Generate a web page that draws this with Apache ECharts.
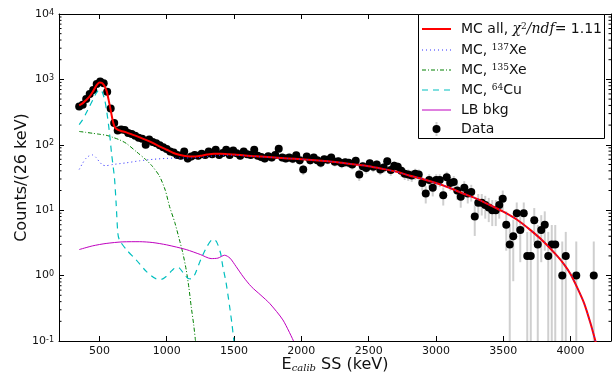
<!DOCTYPE html>
<html><head><meta charset="utf-8">
<script src="https://cdn.jsdelivr.net/npm/echarts@6/dist/echarts.min.js"></script>
<style>html,body{margin:0;padding:0;background:#fff}#c{width:613px;height:375px}</style>
</head><body><div id="c"></div>
<script>
// ---- data ----
const binEnergy = [350,376,402,428,454,480,506,532,558,584,610,636,662,688,714,740,766,792,818,844,870,896,922,948,974,1000,1026,1052,1078,1104,1130,1156,1182,1208,1234,1260,1286,1312,1338,1364,1390,1416,1442,1468,1494,1520,1546,1572,1598,1624,1650,1676,1702,1728,1754,1780,1806,1832,1858,1884,1910,1936,1962,1988,2014,2040,2066,2092,2118,2144,2170,2196,2222,2248,2274,2300,2326,2352,2378,2404,2430,2456,2482,2508,2534,2560,2586,2612,2638,2664,2690,2716,2742,2768,2794,2820,2846,2872,2898,2924,2950,2976,3002,3028,3054,3080,3106,3132,3158,3184,3210,3236,3262,3288,3314,3340,3366,3392,3418,3444,3470,3496,3522,3548,3574,3600,3626,3652,3678,3704,3730,3756,3782,3808,3834,3860,3886,3912,3938,3964,3990,4016,4042,4068,4094,4120,4146,4172];
const dataCounts = [385,410,500,600,690,850,930,870,650,360,
 215,165,172,168,152,146,138,128,124,100,
 120,110,106,98,92,86,79,76,70,68,
 79,62,66,70,68,73,70,79,72,84,
 70,75,84,70,82,74,68,79,72,70,
 84,68,65,62,67,64,70,87,64,62,
 64,61,69,58,42,66,58,64,58,53,
 60,59,64,55,56,52,54,53,50,57,
 35,47,44,52,46,50,42,45,56,41,
 48,46,40,36,35,34,36,35,26,18,
 29,22,29,29,17,32,26,27,20,16,
 22,18,19,8,13,13,12,11,10,10,
 12,15,6,3,4,9,5,9,2,2,
 7,3,5,6,2,3,3,null,1,2,
 null,null,1,null,null,null,null,1];

const mcAllE = [350,375,400,425,450,475,500,520,540,555,570,585,600,615,635,660,700,750,800,850,900,950,1000,1050,1100,1150,1200,1250,1300,1350,1400,1450,1500,1600,1700,1800,1900,2000,2100,2200,2300,2400,2500,2600,2700,2800,2900,3000,3100,3200,3300,3400,3500,3600,3700,3800,3900,3950,4000,4050,4100,4150,4190];
const mcAllV = [400,430,480,540,640,790,900,880,780,650,470,330,230,185,170,163,155,142,130,118,106,94,84,75,70,67,66,68,71,73,73,72,71,68,66,64,62,60,58,56,53,50,47,43,39,34,30,26,22,18,15,12,9.5,7.2,5,3.3,2.0,1.5,1.05,0.65,0.38,0.18,0.09];

const xe137E = [350,375,400,425,450,475,500,525,550,600,700,800,900,1000,1100,1200,1300,1400,1500,1600,1700,1800,1900,2000,2100,2200,2300,2400,2500,2600,2700,2800,2900,3000,3100,3200,3300,3400,3500,3600,3700,3800,3900,3950,4000,4050,4100,4150,4190];
const xe137V = [42,52,62,68,70,64,55,49,48,50,53,57,60,62,63,63,66,69,69.5,67.3,65.6,63.8,61.9,60,58,56,53,50,47,43,39,34,30,26,22,18,15,12,9.5,7.2,5,3.3,2.0,1.5,1.05,0.65,0.38,0.18,0.09];

const xe135E = [350,400,450,500,550,600,650,700,773,850,895,947,990,1021,1060,1095,1120,1145,1165,1182,1200,1214];
const xe135V = [160,155,150,145,140,130,119,105,79,58,46.5,33,20,11.4,6.5,3.5,2.2,1.22,0.65,0.335,0.18,0.1];

const cu64E = [350,375,400,425,450,475,500,520,540,555,575,590,612,625,637,649,700,773,850,922,960,996,1040,1070,1095,1130,1160,1182,1210,1250,1300,1343,1370,1400,1417,1440,1467,1485,1499];
const cu64V = [203,240,300,380,480,610,700,650,480,320,153,75,31,12,4.46,3.5,2.5,1.74,1.15,0.89,0.88,0.97,1.2,1.34,1.3,1.05,0.9,0.89,1.05,1.7,2.8,3.6,3.3,2.2,1.37,0.8,0.34,0.18,0.1];

const lbE = [350,450,550,674,800,897,1000,1145,1250,1330,1380,1430,1470,1516,1570,1628,1700,1764,1863,1942];
const lbV = [2.5,2.85,3.1,3.28,3.3,3.2,2.95,2.5,2.1,1.82,1.85,2.05,1.85,1.37,0.95,0.68,0.5,0.377,0.21,0.1];

const xTicks = [500,1000,1500,2000,2500,3000,3500,4000];
const yTicks = [0.1,1,10,100,1000,10000];
const yMinor = [0.2,0.3,0.4,0.5,0.6,0.7,0.8,0.9,2,3,4,5,6,7,8,9,20,30,40,50,60,70,80,90,200,300,400,500,600,700,800,900,2000,3000,4000,5000,6000,7000,8000,9000];
const X_MIN = 200, X_MAX = 4300, Y_MIN = 0.1, Y_MAX = 10000;

// ---- chart ----
const FONT = 'DejaVu Sans';
const SERIF = 'DejaVu Serif';
const TXT = '#111';
const chart = echarts.init(document.getElementById('c'), null, {renderer: 'canvas'});

function pairs(xs, ys) { return xs.map((x, i) => [x, ys[i]]); }
const dataPts = [];
binEnergy.forEach((e, i) => { if (dataCounts[i] != null) dataPts.push([e, dataCounts[i]]); });
const errBars = dataPts.map(([e, n]) => { const d = 1 + Math.sqrt(n + 0.75); return [e, Math.max(n - d, Y_MIN), n + d]; });

function expLabel(v) {
  const ex = Math.round(Math.log10(v));
  return '{b|10}{s|' + (ex < 0 ? '-' + (-ex) : ex) + '}';
}

const axisLineStyle = {color: '#000', width: 1};
function curve(name, xs, ys, color, width, type, z) {
  return {type: 'line', name, data: pairs(xs, ys), showSymbol: false, symbol: 'none', smooth: 0.25,
    lineStyle: {color, width, type}, z, silent: true, clip: true, animation: false};
}

const LX1 = 422, LX2 = 451, LTX = 461;
const rows = [29, 50, 70, 90, 110, 129];
const legendRich = {
  n: {fontFamily: FONT, fontSize: 14, color: TXT},
  i: {fontFamily: SERIF, fontStyle: 'italic', fontSize: 14, color: TXT},
  sup: {fontFamily: SERIF, fontSize: 9, color: TXT, verticalAlign: 'top'},
  supi: {fontFamily: SERIF, fontSize: 9, color: TXT, verticalAlign: 'top'}
};
function legLine(y, color, width, dash) {
  return {type: 'line', shape: {x1: LX1, y1: y, x2: LX2, y2: y}, style: {stroke: color, lineWidth: width, lineDash: dash}, z: 101};
}
function legText(y, txt) {
  return {type: 'text', x: LTX, y: y, style: {text: txt, rich: legendRich, verticalAlign: 'middle', fill: TXT, font: '14px ' + FONT}, z: 101};
}

const option = {
  animation: false,
  backgroundColor: '#fff',
  grid: {left: 59, right: 2, top: 14, bottom: 34, containLabel: false, outerBoundsMode: 'none'},
  xAxis: [{
    type: 'value', min: X_MIN, max: X_MAX, position: 'bottom',
    axisLine: {show: true, onZero: false, lineStyle: axisLineStyle},
    axisTick: {show: true, inside: true, length: 5, customValues: xTicks, lineStyle: axisLineStyle},
    axisLabel: {customValues: xTicks, formatter: v => String(v), fontFamily: FONT, fontSize: 11, color: TXT, margin: 5},
    splitLine: {show: false},
    name: '{e|E}{sub|calib}{e| SS (keV)}', nameLocation: 'middle', nameGap: 16, nameMoveOverlap: false,
    nameTextStyle: {fontFamily: FONT, fontSize: 16, color: TXT, rich: {
      e: {fontFamily: FONT, fontSize: 16, color: TXT},
      sub: {fontFamily: SERIF, fontStyle: 'italic', fontSize: 10, color: TXT, verticalAlign: 'bottom'}
    }}
  }, {
    type: 'value', min: X_MIN, max: X_MAX, position: 'top',
    axisLine: {show: true, onZero: false, lineStyle: axisLineStyle},
    axisTick: {show: true, inside: true, length: 5, customValues: xTicks, lineStyle: axisLineStyle},
    axisLabel: {show: false}, splitLine: {show: false}
  }],
  yAxis: [{
    type: 'log', logBase: 10, min: Y_MIN, max: Y_MAX, position: 'left',
    axisLine: {show: true, onZero: false, lineStyle: axisLineStyle},
    axisTick: {show: true, inside: true, length: 5, customValues: yTicks, lineStyle: axisLineStyle},
    axisLabel: {customValues: yTicks, formatter: expLabel, margin: 5, rich: {
      b: {fontFamily: FONT, fontSize: 11, color: TXT},
      s: {fontFamily: FONT, fontSize: 8, color: TXT, verticalAlign: 'top'}
    }},
    splitLine: {show: false},
    name: 'Counts/(26 keV)', nameLocation: 'middle', nameGap: 29, nameRotate: 90, nameMoveOverlap: false,
    nameTextStyle: {fontFamily: FONT, fontSize: 16, color: TXT}
  }, {
    type: 'log', logBase: 10, min: Y_MIN, max: Y_MAX, position: 'right',
    axisLine: {show: true, onZero: false, lineStyle: axisLineStyle},
    axisTick: {show: true, inside: true, length: 5, customValues: yTicks, lineStyle: axisLineStyle},
    axisLabel: {show: false}, splitLine: {show: false}
  }],
  series: [
    {type: 'custom', name: 'minorTicks', silent: true, z: 50,
     data: yMinor.map(v => [X_MIN, v]), encode: {x: 0, y: 1},
     renderItem: function (params, api) {
       const l = api.coord([X_MIN, api.value(1)]);
       const r = api.coord([X_MAX, api.value(1)]);
       return {type: 'group', children: [
         {type: 'line', shape: {x1: l[0], y1: l[1], x2: l[0] + 2.5, y2: l[1]}, style: {stroke: '#000', lineWidth: 1}},
         {type: 'line', shape: {x1: r[0] - 2.5, y1: r[1], x2: r[0], y2: r[1]}, style: {stroke: '#000', lineWidth: 1}}
       ]};
     }},
    {type: 'custom', name: 'errors', silent: true, z: 2, clip: true,
     data: errBars, encode: {x: 0, y: [1, 2]},
     renderItem: function (params, api) {
       const a = api.coord([api.value(0), api.value(1)]);
       const b = api.coord([api.value(0), api.value(2)]);
       return {type: 'line', shape: {x1: a[0], y1: a[1], x2: b[0], y2: b[1]}, style: {stroke: '#cfcfcf', lineWidth: 2}};
     }},
    {type: 'scatter', name: 'Data', data: dataPts, symbol: 'circle', symbolSize: 8,
     itemStyle: {color: '#000', opacity: 1}, z: 3, silent: true},
    curve('MC, 135Xe', xe135E, xe135V, '#008000', 1, [4, 2, 1, 2], 4),
    curve('MC, 64Cu', cu64E, cu64V, '#00bfbf', 1.2, [6, 5], 4),
    curve('LB bkg', lbE, lbV, '#bf00bf', 1, 'solid', 4),
    curve('MC all', mcAllE, mcAllV, '#ff0000', 2, 'solid', 5),
    curve('MC, 137Xe', xe137E, xe137V, '#3030ff', 1, [1, 3], 6)
  ],
  graphic: [
    {type: 'rect', shape: {x: 418.5, y: 14.5, width: 186, height: 124}, style: {fill: '#fff', stroke: '#000', lineWidth: 1}, z: 100},
    legLine(rows[0], '#ff0000', 2, null),
    legText(rows[0], '{n|MC all, }{i|\u03c7}{supi|2}{i|/ndf}{n|= 1.11}'),
    legLine(rows[1], '#3030ff', 1, [1, 3]),
    legText(rows[1], '{n|MC, }{sup|137}{n|Xe}'),
    legLine(rows[2], '#008000', 1, [4, 2, 1, 2]),
    legText(rows[2], '{n|MC, }{sup|135}{n|Xe}'),
    legLine(rows[3], '#00bfbf', 1.2, [6, 5]),
    legText(rows[3], '{n|MC, }{sup|64}{n|Cu}'),
    legLine(rows[4], '#bf00bf', 1, null),
    legText(rows[4], '{n|LB bkg}'),
    {type: 'line', shape: {x1: (LX1 + LX2) / 2, y1: rows[5] - 7, x2: (LX1 + LX2) / 2, y2: rows[5] + 7}, style: {stroke: '#cfcfcf', lineWidth: 2}, z: 101},
    {type: 'circle', shape: {cx: (LX1 + LX2) / 2, cy: rows[5], r: 4}, style: {fill: '#000'}, z: 102},
    legText(rows[5], '{n|Data}')
  ]
};
chart.setOption(option);
</script>
</body></html>
